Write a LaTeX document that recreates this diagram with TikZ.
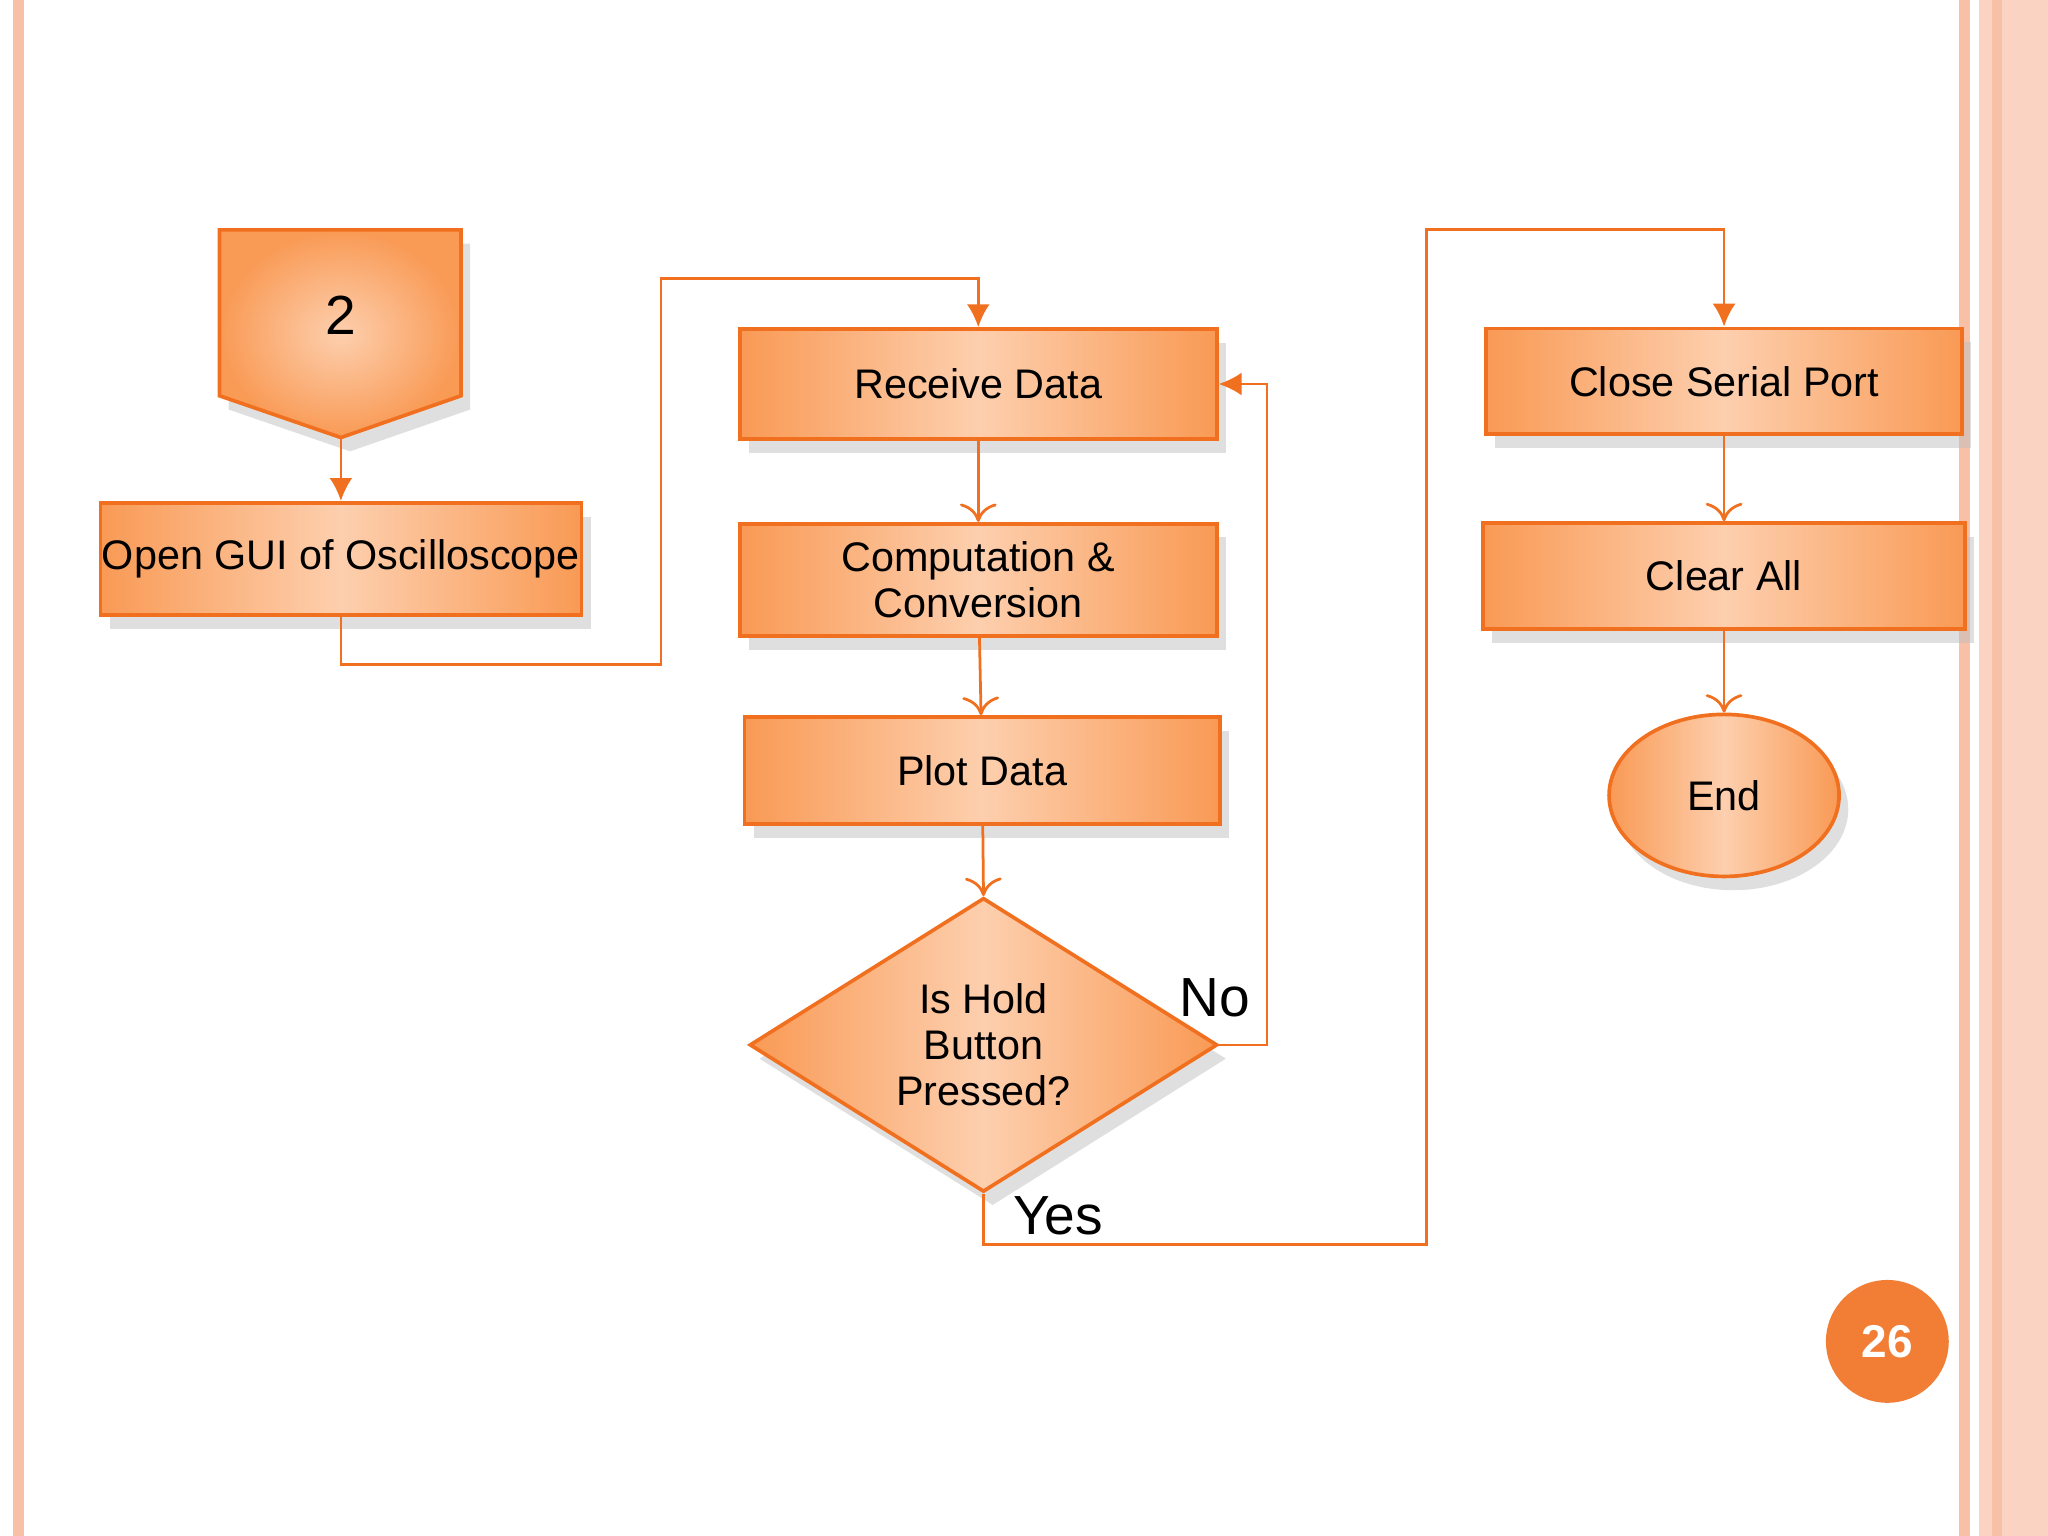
\documentclass[tikz,border=0pt]{standalone}
\usepackage{fontspec}
\setmainfont{Liberation Sans}
\usetikzlibrary{shapes.geometric,arrows.meta,shadows}
\definecolor{edge}{HTML}{F07020}
\definecolor{dark}{HTML}{F99A55}
\definecolor{light}{HTML}{FDCFAE}
\definecolor{rim}{HTML}{F9C0A8}
\tikzset{
 box/.style={draw=edge,thick,left color=dark,right color=dark,middle color=light,
  drop shadow={shadow xshift=2pt,shadow yshift=-3pt,fill=gray!50},
  font=\fontsize{9}{10}\selectfont,align=center,inner sep=0pt},
 line/.style={draw=edge,semithick},
 tip/.style={line,-{Latex[length=5pt,width=5pt]}},
 open/.style={line,-{To[length=4pt,width=8pt]}},
 big/.style={font=\fontsize{12}{14}\selectfont}
}
\begin{document}
\begin{tikzpicture}[x=0.01cm,y=-0.01cm]
\useasboundingbox (0,0) rectangle (1568,1176);
% page frame
\fill[rim] (10,0) rectangle (18,1176);
\fill[rim] (1500,0) rectangle (1508,1176);
\fill[rim!70] (1515,0) rectangle (1568,1176);
\fill[rim] (1525,0) rectangle (1533,1176);
% off-page connector
\path[draw=edge,thick,inner color=light,outer color=dark,
  drop shadow={shadow xshift=2pt,shadow yshift=-3pt,fill=gray!50}]
  (168,176) -- (353,176) -- (353,303) -- (261,335) -- (168,303) -- cycle;
\node[big] (two) at (261,241) {2};
\coordinate (twob) at (261,335);

\node[box,minimum width=3.68cm,minimum height=0.86cm] (gui) at (261,428) {Open GUI of Oscilloscope};
\node[box,minimum width=3.65cm,minimum height=0.84cm] (recv) at (749,294) {Receive Data};
\node[box,minimum width=3.65cm,minimum height=0.86cm] (comp) at (749,444) {Computation \&\\Conversion};
\node[box,minimum width=3.64cm,minimum height=0.82cm] (plot) at (752,590) {Plot Data};
\node[box,diamond,minimum width=3.58cm,minimum height=2.25cm,aspect=1.6] (hold) at (753,800) {Is Hold\\Button\\Pressed?};
\node[box,minimum width=3.64cm,minimum height=0.81cm] (close) at (1320,292) {Close Serial Port};
\node[box,minimum width=3.69cm,minimum height=0.81cm] (clear) at (1320,441) {Clear All};
\node[box,ellipse,minimum width=1.76cm,minimum height=1.24cm] (end) at (1320,609) {End};

\node[big] (no) at (930,764) {No};
\node[big] (yes) at (810,931) {Yes};
\node[circle,fill=edge!90,minimum size=0.94cm,text=white,font=\fontsize{10}{12}\selectfont\bfseries] (page) at (1445,1027) {26};

\draw[tip] (twob) -- (gui);
\draw[tip] (gui.south) |- (506,509) |- (749,213) -- (recv.north);
\draw[open] (recv) -- (comp);
\draw[open] (comp) -- (plot);
\draw[open] (plot) -- (hold.north);
\draw[tip] (hold.east) -| (970,294) -- (recv.east);
\draw[tip] (hold.south) |- (1092,953) |- (1320,176) -- (close.north);
\draw[open] (close) -- (clear);
\draw[open] (clear) -- (end);
\end{tikzpicture}
\end{document}
